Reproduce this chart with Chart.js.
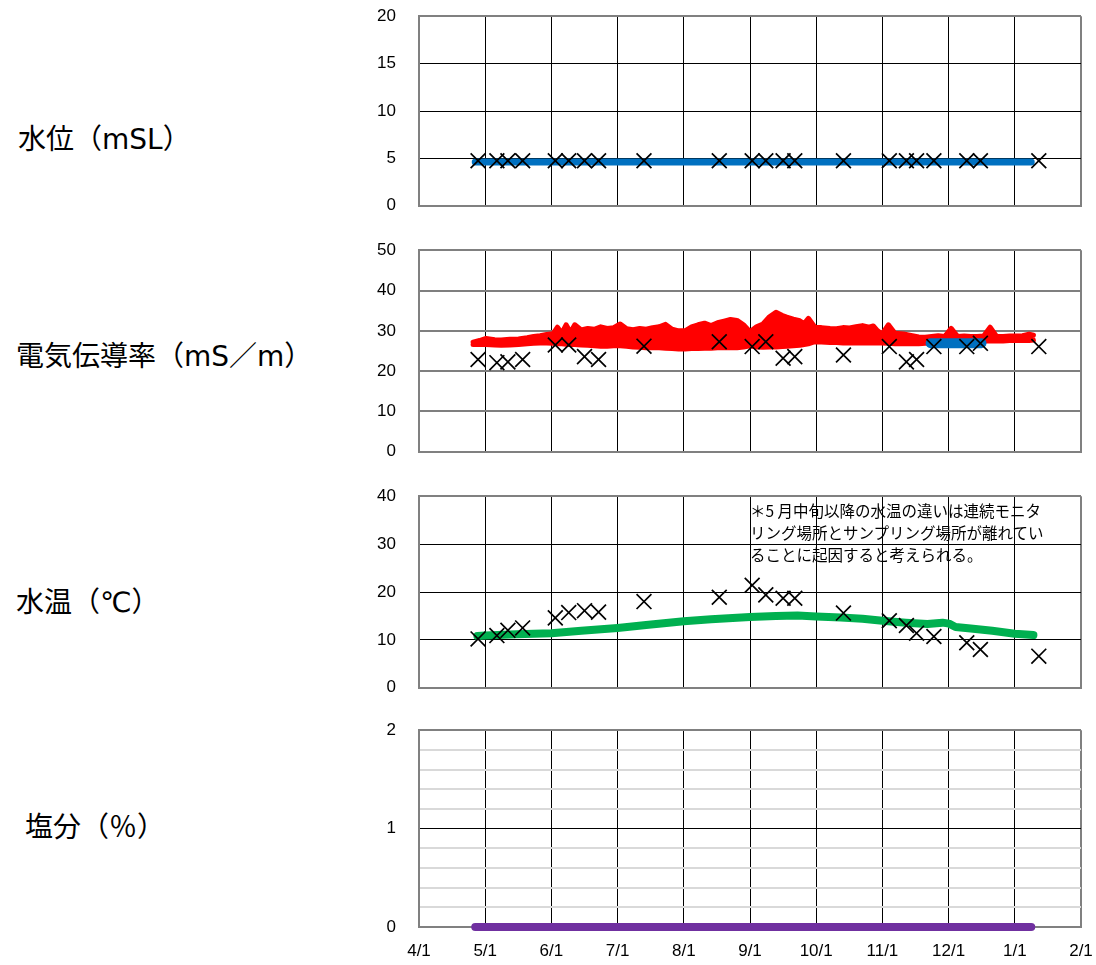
<!DOCTYPE html>
<html lang="ja">
<head>
<meta charset="utf-8">
<title>水位・電気伝導率・水温・塩分</title>
<script src="https://cdn.jsdelivr.net/npm/chart.js@4.4.1/dist/chart.umd.min.js"></script>
<style>
  body { margin: 0; background: #fff; }
  #wrap { position: relative; width: 1096px; height: 965px; overflow: hidden; font-family: "Noto Sans CJK JP", sans-serif; color: #000; }
  canvas { position: absolute; left: 340px; }
  .label { position: absolute; font-family: "DejaVu Sans", "Noto Sans CJK JP", sans-serif; font-size: 28px; line-height: 28px; white-space: nowrap; }
  .note { position: absolute; left: 750px; top: 499px; font-size: 15.5px; line-height: 22px; white-space: nowrap; }
</style>
</head>
<body>
<div id="wrap">
  <div class="label" style="left:18px; top:126px;">水位（mSL）</div>
  <div class="label" style="left:16px; top:343px;">電気伝導率（mS／m）</div>
  <div class="label" style="left:16px; top:589px;">水温（℃）</div>
  <div class="label" style="left:25px; top:814px;">塩分（％）</div>

  <canvas id="nivel" width="756" height="214" style="top:4px; width:756px; height:214px;"></canvas>
  <canvas id="condutividade" width="756" height="226" style="top:238px; width:756px; height:226px;"></canvas>
  <canvas id="temperatura" width="756" height="216" style="top:484px; width:756px; height:216px;"></canvas>
  <canvas id="salinidade" width="756" height="245" style="top:718px; width:756px; height:245px;"></canvas>

  <div class="note">＊5 月中旬以降の水温の違いは連続モニタ<br>リング場所とサンプリング場所が離れてい<br>ることに起因すると考えられる。</div>
</div>

<script>
// 目盛り（4/1 からの日数）
const monthTicks = [0, 30.6, 61.2, 91.8, 122.4, 153, 183.6, 214.2, 244.8, 275.4, 306];
const monthLabels = ['4/1', '5/1', '6/1', '7/1', '8/1', '9/1', '10/1', '11/1', '12/1', '1/1', '2/1'];

// 採水日（4/1 からの日数）
const sampleDays = [27.3, 36, 41.1, 47.9, 63, 69.2, 76.5, 83, 104, 138.8, 154, 160.3, 168.3, 173.7, 196.2, 217.4, 225.3, 230, 238, 253.2, 259.5, 286.5];
const levelSample = [4.75, 4.75, 4.75, 4.75, 4.75, 4.75, 4.75, 4.75, 4.75, 4.75, 4.75, 4.75, 4.75, 4.75, 4.75, 4.75, 4.75, 4.75, 4.75, 4.75, 4.75, 4.75];
const ecSample = [22.9, 22.1, 22.3, 22.9, 26.5, 26.5, 23.6, 22.9, 26.2, 27.3, 26.1, 27.3, 23.2, 23.6, 24.0, 26.1, 22.3, 22.9, 26.1, 26.1, 26.9, 26.1];
const tempSample = [10.2, 10.9, 12.0, 12.5, 14.6, 15.7, 16.1, 15.8, 18.0, 18.9, 21.4, 19.4, 18.7, 18.7, 15.6, 14.0, 13.0, 11.4, 10.7, 9.4, 8.0, 6.6];

// 連続モニタリング：水位
const levelDays = [26, 61, 122, 183, 244, 283];
const levelCont = [4.62, 4.62, 4.62, 4.62, 4.62, 4.62];

// 連続モニタリング：電気伝導率（上限・下限）
const ecDays = [25, 28, 31, 35, 38, 42, 46, 50, 53, 56, 59, 62, 64, 66, 68, 70, 72, 75, 78, 81, 84, 87, 90, 93, 96, 99, 102, 105, 108, 111, 114, 117, 120, 123, 126, 129, 132, 135, 138, 141, 144, 147, 150, 153, 156, 159, 162, 165, 168, 170, 173, 176, 178, 180, 183, 186, 190, 193, 196, 199, 202, 205, 208, 210, 212, 214, 217, 220, 224, 228, 231, 234, 237, 240, 243, 246, 249, 252, 255, 258, 261, 264, 267, 270, 273, 276, 279, 282, 284];
const ecHigh = [27.2, 27.6, 28.1, 27.8, 27.7, 27.9, 28.0, 28.3, 28.6, 28.8, 29.1, 29.3, 30.9, 29.4, 31.5, 29.6, 31.5, 30.2, 30.6, 30.4, 31.0, 30.6, 30.8, 31.7, 30.5, 30.3, 30.6, 30.4, 30.8, 31.0, 31.6, 30.4, 30.0, 30.0, 31.0, 31.5, 31.9, 31.3, 32.0, 32.4, 32.8, 32.6, 31.5, 29.8, 31.0, 31.7, 33.5, 34.6, 33.8, 33.4, 32.9, 32.5, 31.8, 33.1, 30.9, 30.8, 30.6, 30.5, 30.8, 30.7, 31.0, 31.3, 30.9, 31.2, 30.0, 29.2, 31.5, 29.4, 29.2, 28.8, 28.5, 28.4, 28.6, 28.8, 28.6, 30.6, 28.6, 28.7, 28.6, 28.6, 28.7, 30.9, 28.6, 28.6, 28.7, 28.7, 28.8, 29.2, 28.9];
const ecLow = [26.6, 26.6, 26.6, 26.5, 26.4, 26.5, 26.6, 26.8, 26.9, 27.0, 27.0, 26.9, 26.8, 26.8, 26.7, 26.6, 26.6, 26.5, 26.4, 26.3, 26.2, 26.2, 26.3, 26.3, 26.2, 26.0, 25.9, 25.8, 25.8, 25.8, 25.7, 25.6, 25.5, 25.5, 25.6, 25.6, 25.7, 25.7, 25.8, 25.8, 25.8, 25.8, 26.0, 26.3, 26.0, 25.9, 26.0, 26.0, 26.1, 26.2, 26.3, 26.4, 26.6, 26.8, 27.3, 27.2, 27.1, 27.1, 27.0, 27.0, 27.0, 27.0, 27.0, 27.0, 27.0, 27.0, 26.9, 26.8, 26.8, 26.8, 26.8, 26.9, 27.0, 27.1, 27.2, 27.3, 27.4, 27.5, 27.5, 27.5, 27.5, 27.5, 27.5, 27.5, 27.6, 27.6, 27.6, 27.6, 27.7];

// 連続モニタリング：電気伝導率（別系列、12月）
const ecBlueDays = [236.5, 244, 252, 260];
const ecBlue = [26.9, 26.9, 26.9, 26.9];

// 連続モニタリング：水温
const tempDays = [27, 30.6, 45, 61.2, 75, 91.8, 105, 122.4, 135, 153, 165, 175, 183.6, 195, 205, 214.2, 225, 235, 242, 245, 248, 255, 265, 275.4, 284];
const tempCont = [10.8, 10.9, 11.2, 11.4, 11.9, 12.5, 13.1, 13.9, 14.3, 14.8, 15.0, 15.1, 14.9, 14.7, 14.4, 14.0, 13.6, 13.3, 13.6, 13.4, 12.7, 12.4, 11.9, 11.3, 11.0];

// 連続モニタリング：塩分
const saltDays = [26, 283];
const saltCont = [0, 0];

const EDGE = '#808080';

// x と y の配列から点のリストを作る
function pontos(xs, ys) {
    return xs.map((x, i) => ({ x: x, y: ys[i] }));
}

// 採水データ（×印）
function marcadores(xs, ys) {
    return {
        data: pontos(xs, ys),
        showLine: false,
        pointStyle: 'crossRot',
        pointRadius: 10.5,
        pointBorderWidth: 1.7,
        pointBorderColor: '#000',
        pointBackgroundColor: '#000',
        clip: false
    };
}

// 連続データ（太線）
function linha(xs, ys, cor, largura) {
    return {
        data: pontos(xs, ys),
        borderColor: cor,
        backgroundColor: cor,
        borderWidth: largura,
        borderCapStyle: 'round',
        borderJoinStyle: 'round',
        pointRadius: 0,
        fill: false,
        clip: false
    };
}

function criarGrafico(id, datasets, yMax, yStep, opts) {
    const ctx = document.getElementById(id).getContext('2d');
    const fonte = { family: "'Liberation Sans', Arial, sans-serif", size: 17 };
    const borda = v => Math.abs(v) < 1e-6 || Math.abs(v - yMax) < 1e-6;
    return new Chart(ctx, {
        type: 'line',
        data: { datasets: datasets },
        options: {
            responsive: false,
            animation: false,
            events: [],
            layout: { padding: { top: 12, right: 15, bottom: opts.showX ? 0 : 12, left: 0 } },
            plugins: { legend: { display: false }, tooltip: { enabled: false } },
            elements: { line: { tension: 0 } },
            scales: {
                x: {
                    type: 'linear',
                    min: 0,
                    max: 306,
                    afterBuildTicks: s => { s.ticks = monthTicks.map(v => ({ value: v })); },
                    afterFit: s => {
                        s.height = opts.showX ? 36 : 0;
                        s.paddingLeft = 0;
                        s.paddingRight = 0;
                    },
                    border: { color: EDGE, width: 2 },
                    grid: {
                        drawTicks: false,
                        color: c => (c.tick && (c.tick.value === 0 || c.tick.value === 306)) ? EDGE : '#000',
                        lineWidth: c => (c.tick && (c.tick.value === 0 || c.tick.value === 306)) ? 2 : 1
                    },
                    ticks: {
                        display: !!opts.showX,
                        padding: 14,
                        color: '#000',
                        font: fonte,
                        maxRotation: 0,
                        autoSkip: false,
                        callback: (v, i) => monthLabels[i]
                    }
                },
                y: {
                    type: 'linear',
                    min: 0,
                    max: yMax,
                    afterFit: s => { s.width = 79; },
                    border: { color: EDGE, width: 2 },
                    grid: {
                        drawTicks: true,
                        tickLength: 21,
                        tickColor: 'rgba(0,0,0,0)',
                        color: c => borda(c.tick ? c.tick.value : 0) ? EDGE : opts.hColor(c.tick.value),
                        lineWidth: c => borda(c.tick ? c.tick.value : 0) ? 2 : opts.hWidth(c.tick.value)
                    },
                    ticks: {
                        stepSize: yStep,
                        autoSkip: false,
                        padding: 2,
                        color: '#000',
                        font: fonte,
                        callback: opts.yLabel || (v => v)
                    }
                }
            }
        }
    });
}

document.addEventListener('DOMContentLoaded', () => {
    // 水位
    criarGrafico('nivel', [
        marcadores(sampleDays, levelSample),
        linha(levelDays, levelCont, '#0070C0', 7)
    ], 20, 5, { hColor: () => '#000', hWidth: () => 1 });

    // 電気伝導率
    const alto = linha(ecDays, ecHigh, '#FF0000', 5);
    alto.fill = '+1';
    criarGrafico('condutividade', [
        marcadores(sampleDays, ecSample),
        linha(ecBlueDays, ecBlue, '#0070C0', 10),
        alto,
        linha(ecDays, ecLow, '#FF0000', 5)
    ], 50, 10, { hColor: () => '#7f7f7f', hWidth: () => 2 });

    // 水温
    criarGrafico('temperatura', [
        marcadores(sampleDays, tempSample),
        linha(tempDays, tempCont, '#00B050', 8)
    ], 40, 10, { hColor: () => '#000', hWidth: () => 1 });

    // 塩分
    const inteiro = v => Math.abs(v - Math.round(v)) < 1e-6;
    criarGrafico('salinidade', [
        linha(saltDays, saltCont, '#7030A0', 8)
    ], 2, 0.2, {
        showX: true,
        hColor: v => inteiro(v) ? '#000' : '#d9d9d9',
        hWidth: v => inteiro(v) ? 1 : 2,
        yLabel: v => inteiro(v) ? Math.round(v) : ''
    });
});
</script>
</body>
</html>
